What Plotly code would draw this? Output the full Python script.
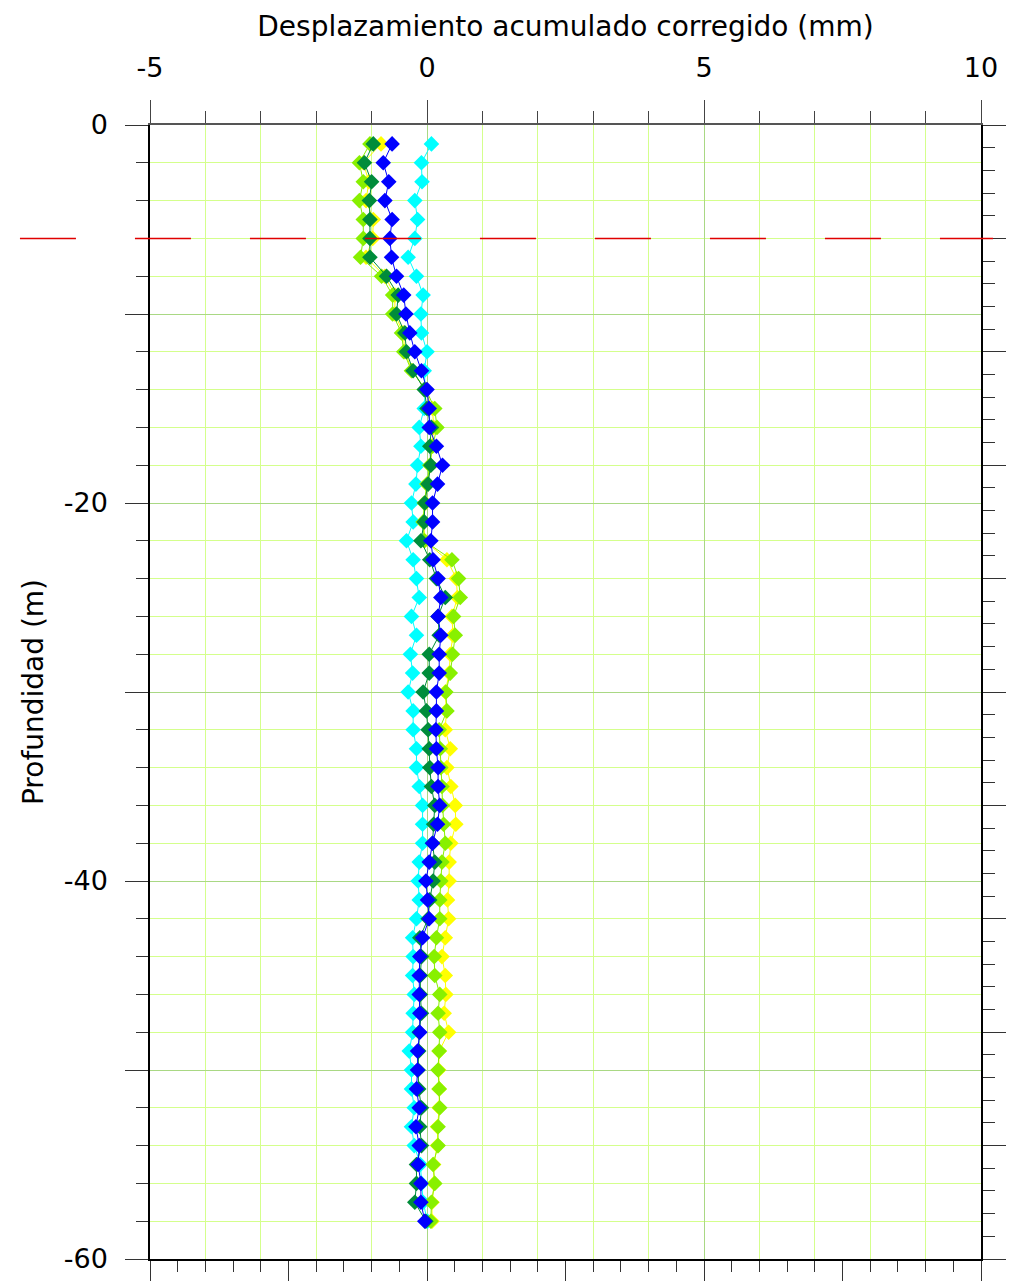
import plotly.graph_objects as go

# profundidad de cada lectura (m)
PROFUNDIDAD = [
    -1, -2, -3, -4, -5, -6, -7, -8, -9, -10,
    -11, -12, -13, -14, -15, -16, -17, -18, -19, -20,
    -21, -22, -23, -24, -25, -26, -27, -28, -29, -30,
    -31, -32, -33, -34, -35, -36, -37, -38, -39, -40,
    -41, -42, -43, -44, -45, -46, -47, -48, -49, -50,
    -51, -52, -53, -54, -55, -56, -57, -58,
]

# desplazamiento acumulado corregido (mm), una lista por lectura
LECTURA_CIAN = [
    0.08, -0.10, -0.09, -0.22, -0.17, -0.22, -0.34, -0.19, -0.07, -0.11,
    -0.10, 0.00, -0.05, -0.03, -0.05, -0.14, -0.11, -0.17, -0.20, -0.28,
    -0.25, -0.37, -0.25, -0.19, -0.14, -0.28, -0.19, -0.30, -0.26, -0.34,
    -0.25, -0.25, -0.19, -0.19, -0.14, -0.08, -0.08, -0.08, -0.14, -0.16,
    -0.14, -0.19, -0.26, -0.25, -0.26, -0.23, -0.25, -0.26, -0.32, -0.28,
    -0.28, -0.23, -0.28, -0.23, -0.12, -0.10, -0.07, 0.01,
]
LECTURA_AMARILLA = [
    -0.83, -1.15, -1.05, -1.10, -0.97, -0.98, -1.10, -0.76, -0.58, -0.58,
    -0.43, -0.40, -0.27, -0.03, 0.10, 0.12, 0.08, 0.06, 0.00, -0.03,
    -0.06, -0.04, 0.36, 0.53, 0.55, 0.45, 0.47, 0.42, 0.40, 0.33,
    0.35, 0.33, 0.42, 0.36, 0.43, 0.51, 0.52, 0.43, 0.40, 0.40,
    0.37, 0.39, 0.33, 0.27, 0.33, 0.34, 0.31, 0.39, 0.22, 0.21,
    0.22, 0.22, 0.19, 0.19, 0.12, 0.13, 0.09, 0.09,
]
LECTURA_VERDE_CLARO = [
    -1.03, -1.22, -1.15, -1.22, -1.15, -1.15, -1.20, -0.82, -0.62, -0.62,
    -0.46, -0.42, -0.28, -0.02, 0.14, 0.18, 0.10, 0.05, 0.00, -0.05,
    -0.07, -0.05, 0.45, 0.57, 0.60, 0.48, 0.51, 0.46, 0.42, 0.34,
    0.36, 0.22, 0.24, 0.25, 0.27, 0.28, 0.30, 0.33, 0.27, 0.25,
    0.23, 0.23, 0.17, 0.13, 0.14, 0.23, 0.20, 0.23, 0.22, 0.20,
    0.22, 0.23, 0.20, 0.20, 0.11, 0.14, 0.08, 0.07,
]
LECTURA_VERDE_OSCURO = [
    -0.97, -1.13, -1.00, -1.04, -1.03, -1.03, -1.03, -0.73, -0.52, -0.55,
    -0.40, -0.37, -0.25, -0.05, 0.00, 0.08, 0.05, 0.07, 0.02, -0.04,
    -0.05, -0.11, 0.05, 0.17, 0.33, 0.20, 0.22, 0.04, 0.04, -0.07,
    -0.01, 0.02, 0.04, 0.05, 0.08, 0.14, 0.12, 0.10, 0.14, 0.11,
    0.05, 0.02, -0.13, -0.10, -0.12, -0.12, -0.10, -0.14, -0.15, -0.16,
    -0.15, -0.10, -0.13, -0.10, -0.19, -0.19, -0.22, -0.02,
]
LECTURA_AZUL = [
    -0.63, -0.79, -0.69, -0.76, -0.63, -0.67, -0.64, -0.55, -0.42, -0.38,
    -0.31, -0.22, -0.10, 0.00, 0.04, 0.04, 0.17, 0.28, 0.19, 0.10,
    0.10, 0.07, 0.11, 0.20, 0.25, 0.20, 0.25, 0.22, 0.22, 0.17,
    0.17, 0.16, 0.17, 0.20, 0.20, 0.23, 0.19, 0.10, 0.04, -0.02,
    0.01, 0.04, -0.08, -0.13, -0.14, -0.14, -0.13, -0.13, -0.17, -0.17,
    -0.19, -0.14, -0.20, -0.14, -0.16, -0.11, -0.11, -0.04,
]

SERIES = [
    ("Lectura 1", "#00ffff", LECTURA_CIAN),
    ("Lectura 2", "#ffff00", LECTURA_AMARILLA),
    ("Lectura 3", "#88f000", LECTURA_VERDE_CLARO),
    ("Lectura 4", "#008c3a", LECTURA_VERDE_OSCURO),
    ("Lectura 5", "#0000ff", LECTURA_AZUL),
]

# eje superior (con etiquetas) e izquierdo
X_TICKS = [-5, 0, 5, 10]
X_TICKTEXT = ["-5", "0", "5", "10"]
Y_TICKS = [0, -10, -20, -30, -40, -50, -60]
Y_TICKTEXT = ["0", "", "-20", "", "-40", "", "-60"]

NIVEL_REFERENCIA = -6  # m, línea discontinua roja

FONT = "DejaVu Sans"
MINOR_GRID = "#d4ff8c"
MAJOR_GRID = "#a9d884"
TICK_COLOR = "#333333"

fig = go.Figure()

for nombre, color, valores in SERIES:
    fig.add_trace(
        go.Scatter(
            x=valores,
            y=PROFUNDIDAD,
            xaxis="x2",
            yaxis="y",
            mode="lines+markers",
            name=nombre,
            line=dict(color=color, width=1),
            marker=dict(symbol="diamond", size=12, color=color, line_width=0),
            showlegend=False,
            hoverinfo="x+y",
        )
    )

# traza vacía: solo sirve para que se dibujen el eje inferior y el derecho
fig.add_trace(
    go.Scatter(x=[], y=[], xaxis="x", yaxis="y2", mode="markers",
               showlegend=False, hoverinfo="skip")
)

fig.add_shape(
    type="line",
    xref="paper",
    yref="y",
    x0=-0.1565,
    x1=1.0145,
    y0=NIVEL_REFERENCIA,
    y1=NIVEL_REFERENCIA,
    line=dict(color="#e00000", width=1.5, dash="56px,59px"),
    layer="above",
)

fig.update_layout(
    width=1016,
    height=1281,
    margin=dict(l=150, r=35, t=125, b=22, autoexpand=False),
    paper_bgcolor="white",
    plot_bgcolor="white",
    font=dict(family=FONT, size=27, color="black"),
    showlegend=False,
    xaxis=dict(
        range=[-5, 10],
        side="bottom",
        anchor="y",
        automargin=False,
        showline=True,
        linecolor="black",
        linewidth=1.5,
        ticks="outside",
        dtick=2.5,
        tick0=0,
        ticklen=22,
        tickcolor=TICK_COLOR,
        showticklabels=False,
        showgrid=False,
        zeroline=False,
        minor=dict(dtick=0.5, tick0=0, ticks="outside", ticklen=11,
                   tickcolor=TICK_COLOR, showgrid=False),
    ),
    xaxis2=dict(
        range=[-5, 10],
        overlaying="x",
        side="top",
        anchor="y",
        automargin=False,
        showline=True,
        linecolor="#555555",
        linewidth=1.5,
        ticks="outside",
        tickvals=X_TICKS,
        ticktext=X_TICKTEXT,
        ticklen=23,
        tickcolor="#444444",
        ticklabelstandoff=12,
        showgrid=True,
        gridcolor=MAJOR_GRID,
        zeroline=False,
        minor=dict(dtick=1, tick0=0, ticks="outside", ticklen=12,
                   tickcolor="#444444", showgrid=True, gridcolor=MINOR_GRID),
        title=dict(text="Desplazamiento acumulado corregido (mm)",
                   font=dict(size=28), standoff=8),
    ),
    yaxis=dict(
        range=[-60, 0],
        side="left",
        anchor="x",
        automargin=False,
        showline=True,
        linecolor="black",
        linewidth=1.5,
        ticks="outside",
        tickvals=Y_TICKS,
        ticktext=Y_TICKTEXT,
        ticklen=23,
        tickcolor=TICK_COLOR,
        ticklabelstandoff=12,
        showgrid=True,
        gridcolor=MAJOR_GRID,
        zeroline=False,
        minor=dict(dtick=2, tick0=0, ticks="outside", ticklen=12,
                   tickcolor=TICK_COLOR, showgrid=True, gridcolor=MINOR_GRID),
        title=dict(text="Profundidad (m)", font=dict(size=28), standoff=12),
    ),
    yaxis2=dict(
        range=[-60, 0],
        overlaying="y",
        side="right",
        anchor="x",
        automargin=False,
        showline=True,
        linecolor="black",
        linewidth=1.5,
        ticks="outside",
        dtick=6,
        tick0=0,
        ticklen=23,
        tickcolor=TICK_COLOR,
        showticklabels=False,
        showgrid=False,
        zeroline=False,
        minor=dict(dtick=1.2, tick0=0, ticks="outside", ticklen=12,
                   tickcolor=TICK_COLOR, showgrid=False),
    ),
)

fig.write_html(
    "out.html",
    config={"displayModeBar": False},
    post_script="document.body.style.margin='0';",
)
